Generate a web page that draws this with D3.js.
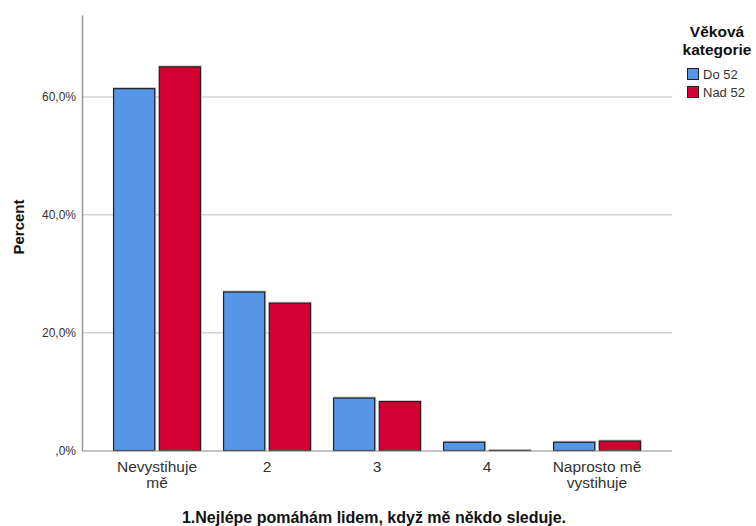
<!DOCTYPE html>
<html><head><meta charset="utf-8">
<script src="https://cdn.jsdelivr.net/npm/d3@7"></script>
<style>body{margin:0;background:#fff;}svg{display:block;font-family:"Liberation Sans",Arial,sans-serif;}</style>
</head><body>
<svg id="c" width="756" height="526"></svg>
<script>
const categories = ["Nevystihuje\nmě", "2", "3", "4", "Naprosto mě\nvystihuje"];
const seriesNames = ["Do 52", "Nad 52"];
const do52 = [61.4, 26.9, 8.9, 1.4, 1.4];
const nad52 = [65.1, 25.0, 8.3, 0.0, 1.6];
const yTicks = [0, 20, 40, 60];
const colors = ["#5596e6", "#d50032"];

(function () {
const svg = d3.select("#c");
const pLeft = 82, pRight = 672, pTop = 15, pBottom = 450.5;
const y = d3.scaleLinear().domain([0, 73.9]).range([pBottom, pTop]);
const x0 = d3.scaleBand().domain(categories).range([102, 652]).paddingInner(0.21).paddingOuter(0.105);
const x1 = d3.scaleBand().domain(seriesNames).range([0, x0.bandwidth()]).paddingInner(0.1);

// gridlines
svg.append("g").selectAll("line").data(yTicks.filter(d => d > 0)).join("line")
  .attr("x1", pLeft).attr("x2", pRight).attr("y1", d => y(d)).attr("y2", d => y(d))
  .attr("stroke", "#d4d4d4").attr("stroke-width", 1.5);

// y axis
const yAxis = d3.axisLeft(y).tickValues(yTicks).tickSize(0).tickPadding(6)
  .tickFormat(d => d === 0 ? ",0%" : d3.format(".1f")(d).replace(".", ",") + "%");
const ga = svg.append("g").attr("transform", `translate(${pLeft},0)`).call(yAxis);
ga.select(".domain").attr("stroke", "#999").attr("stroke-width", 1.5);
ga.selectAll("text").attr("font-size", 12).attr("fill", "#333").attr("font-family", "Liberation Sans, Arial, sans-serif");

// bars
const data = categories.map((c, i) => ({cat: c, vals: [do52[i], nad52[i]]}));
const groups = svg.append("g").selectAll("g").data(data).join("g")
  .attr("transform", d => `translate(${x0(d.cat)},0)`);
groups.selectAll("rect.shadow").data(d => d.vals.map((v, j) => ({v, s: seriesNames[j], j}))).join("rect")
  .attr("class", "shadow")
  .attr("x", d => x1(d.s) - 0.5).attr("y", d => y(d.v) - 1.5)
  .attr("width", x1.bandwidth() + 2).attr("height", d => pBottom - y(d.v) + 1.5)
  .attr("fill", "#c8c8c8");
groups.selectAll("rect.bar").data(d => d.vals.map((v, j) => ({v, s: seriesNames[j], j}))).join("rect")
  .attr("class", "bar")
  .attr("x", d => x1(d.s)).attr("y", d => Math.min(y(d.v), pBottom - 0.01))
  .attr("width", x1.bandwidth()).attr("height", d => Math.max(pBottom - y(d.v), 0.01))
  .attr("fill", d => colors[d.j]).attr("stroke", "#222").attr("stroke-width", 1.2);

// x axis line
svg.append("line").attr("x1", pLeft).attr("x2", pRight).attr("y1", pBottom + 0.5).attr("y2", pBottom + 0.5)
  .attr("stroke", "#888").attr("stroke-width", 1.2);

// x tick labels
const xl = svg.append("g").selectAll("text").data(categories).join("text")
  .attr("x", d => x0(d) + x0.bandwidth() / 2).attr("y", 472)
  .attr("text-anchor", "middle").attr("font-size", 15.5).attr("fill", "#333");
xl.each(function(d) {
  const t = d3.select(this);
  d.split("\n").forEach((line, i) => {
    t.append("tspan").attr("x", x0(d) + x0.bandwidth() / 2).attr("dy", i === 0 ? 0 : 16).text(line);
  });
});

// axis titles
svg.append("text").attr("x", 374).attr("y", 523).attr("text-anchor", "middle")
  .attr("font-size", 16).attr("font-weight", "bold").attr("fill", "#111")
  .text("1.Nejlépe pomáhám lidem, když mě někdo sleduje.");
svg.append("text").attr("transform", "translate(24,227) rotate(-90)").attr("text-anchor", "middle")
  .attr("font-size", 15).attr("font-weight", "bold").attr("fill", "#111").text("Percent");

// legend
const lg = svg.append("g");
lg.append("text").attr("x", 717).attr("y", 37).attr("text-anchor", "middle")
  .attr("font-size", 15.5).attr("font-weight", "bold").attr("fill", "#111").text("Věková");
lg.append("text").attr("x", 717).attr("y", 55).attr("text-anchor", "middle")
  .attr("font-size", 15.5).attr("font-weight", "bold").attr("fill", "#111").text("kategorie");
seriesNames.forEach((s, i) => {
  lg.append("rect").attr("x", 687.5).attr("y", 68.5 + i * 18).attr("width", 11).attr("height", 11)
    .attr("fill", colors[i]).attr("stroke", "#222").attr("stroke-width", 1);
  lg.append("text").attr("x", 703).attr("y", 79 + i * 18).attr("font-size", 13).attr("fill", "#333").text(s);
});
})();
</script>
</body></html>
